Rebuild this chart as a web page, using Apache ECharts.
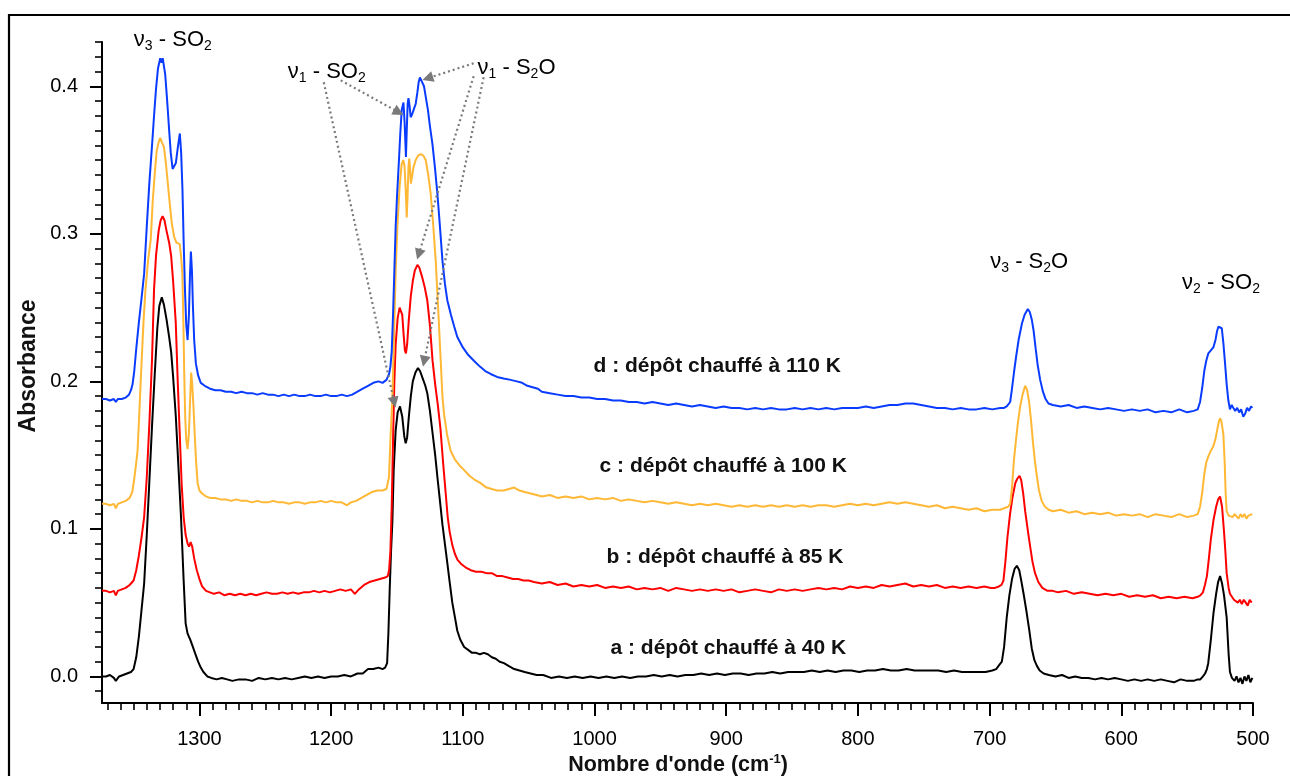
<!DOCTYPE html>
<html><head><meta charset="utf-8">
<script src="https://cdn.jsdelivr.net/npm/echarts@6/dist/echarts.min.js"></script>
<style>html,body{margin:0;padding:0;background:#fff}#c{width:1290px;height:776px}</style>
</head><body><div id="c"></div>
<script>
// ---------- DATA ----------
const xMajorTicks = [500, 600, 700, 800, 900, 1000, 1100, 1200, 1300];
const xMinorTicks = [510,520,530,540,550,560,570,580,590,610,620,630,640,650,660,670,680,690,710,720,730,740,750,760,770,780,790,810,820,830,840,850,860,870,880,890,910,920,930,940,950,960,970,980,990,1010,1020,1030,1040,1050,1060,1070,1080,1090,1110,1120,1130,1140,1150,1160,1170,1180,1190,1210,1220,1230,1240,1250,1260,1270,1280,1290,1310,1320,1330,1340,1350,1360,1370];
const yMajorTicks = [0, 0.1, 0.2, 0.3, 0.4];
const yMinorTicks = [-0.01,0.01,0.02,0.03,0.04,0.05,0.06,0.07,0.08,0.09,0.11,0.12,0.13,0.14,0.15,0.16,0.17,0.18,0.19,0.21,0.22,0.23,0.24,0.25,0.26,0.27,0.28,0.29,0.31,0.32,0.33,0.34,0.35,0.36,0.37,0.38,0.39,0.41,0.42,0.43];

const seriesNames = ['a : dépôt chauffé à 40 K','b : dépôt chauffé à 85 K','c : dépôt chauffé à 100 K','d : dépôt chauffé à 110 K'];

const spectrumA = [
[1374,0.000],[1371,0.000],[1368,0.001],[1365,-0.001],[1363.5,-0.003],[1361,0.000],[1358,0.001],[1355,0.002],[1352,0.003],[1350,0.005],[1348,0.013],[1346,0.027],[1344,0.045],[1342,0.063],[1340,0.096],[1338,0.133],[1336,0.170],[1334,0.204],[1332,0.236],[1330.5,0.251],[1328.6,0.257],[1327,0.252],[1325,0.242],[1323,0.230],[1321.5,0.220],[1320,0.203],[1318,0.177],[1316,0.143],[1314,0.108],[1312,0.065],[1310.5,0.036],[1309,0.029],[1307,0.025],[1305,0.020],[1303,0.015],[1301,0.010],[1299,0.006],[1297,0.003],[1294,0.000],[1291,-0.001],[1287,-0.002],[1283,-0.001],[1279,-0.002],[1275,-0.003],[1270,-0.002],[1265,-0.002],[1260,-0.003],[1255,-0.001],[1250,-0.002],[1245,-0.001],[1240,-0.002],[1235,-0.001],[1230,-0.002],[1225,-0.001],[1220,0.000],[1215,-0.001],[1210,0.000],[1205,-0.001],[1200,0.000],[1195,0.000],[1190,0.001],[1185,0.000],[1180,0.002],[1176,0.002],[1172,0.005],[1168,0.005],[1164,0.006],[1161,0.005],[1159,0.006],
[1157.5,0.009],[1156.5,0.030],[1155.5,0.060],[1154.5,0.085],[1153.5,0.105],[1152.5,0.140],[1151,0.167],[1149.5,0.179],[1147.7,0.183],[1146,0.176],[1144.5,0.163],[1143.4,0.158],[1142.3,0.162],[1141,0.176],[1139.5,0.190],[1138,0.200],[1136,0.206],[1134.1,0.209],[1132.5,0.207],[1130.5,0.202],[1128.5,0.197],[1127,0.192],[1125,0.180],[1123,0.165],[1121,0.150],[1119.3,0.135],[1117.5,0.120],[1115.5,0.103],[1113.5,0.089],[1111.8,0.077],[1110,0.064],[1108,0.050],[1106,0.040],[1104.2,0.031],[1102,0.025],[1099,0.020],[1096,0.018],[1093,0.016],[1090,0.016],[1087,0.015],[1084,0.016],[1081,0.015],[1078,0.013],[1075,0.012],[1072,0.010],[1068.8,0.009],[1065,0.007],[1061,0.005],[1057,0.004],[1053,0.003],[1048.5,0.002],[1044,0.001],
[1039,0.001],[1033,-0.001],[1027,0.000],[1021,-0.001],[1015,0.000],[1009,-0.001],[1003,0.000],[997,-0.001],[991,0.000],[985,-0.001],[979,0.000],[973,-0.001],[967,0.000],[961,0.000],[955,0.001],[949,0.000],[943,0.001],[937,0.000],[931,0.001],[925,0.001],[919,0.002],[913,0.001],[907,0.002],[901,0.001],[895,0.002],[889,0.002],[883,0.001],[877,0.002],[871,0.002],[865,0.003],[859,0.002],[853,0.003],[847,0.003],[841,0.003],[835,0.004],[829,0.003],[823,0.004],[817,0.003],[811,0.004],[805,0.004],[799,0.003],[793,0.004],[787,0.004],[781,0.005],[775,0.004],[769,0.004],[763,0.005],[757,0.004],[751,0.004],[745,0.004],[739,0.004],[733,0.003],[727,0.004],[721,0.003],[715,0.003],[709,0.003],[703,0.003],[698,0.004],
[695,0.005],[692.5,0.008],[690.7,0.010],[689,0.020],[687,0.040],[685,0.055],[683,0.066],[681,0.073],[679.3,0.075],[677.5,0.072],[676,0.065],[674,0.055],[672,0.044],[670,0.032],[668,0.019],[666,0.011],[664,0.007],[662,0.004],[659,0.002],
[655,0.001],[650,0.000],[645,0.001],[640,-0.001],[635,0.000],[630,-0.001],[625,-0.001],[620,-0.002],[615,-0.001],[610,-0.002],[605,-0.001],[600,-0.002],[595,-0.003],[590,-0.002],[585,-0.003],[580,-0.002],[575,-0.003],[570,-0.002],[565,-0.003],[560,-0.004],[555,-0.002],[550,-0.003],[545,-0.003],[542,-0.002],
[540,-0.002],[538,0.000],[536.4,0.002],[535,0.005],[534,0.009],[532,0.025],[530,0.043],[528,0.056],[526.5,0.064],[525,0.068],[523.5,0.063],[522,0.055],[520,0.040],[518.5,0.015],[517.5,0.003],[516,-0.001],[514,-0.003],[512.5,0.000],[511,-0.004],[509.5,-0.001],[508,-0.005],[506.5,0.000],[505,-0.003],[503.5,0.001],[502,-0.004],[500.5,-0.001]
];

const spectrumB = [
[1374,0.058],[1371,0.058],[1368,0.057],[1365,0.058],[1363.5,0.055],[1362,0.058],[1359,0.059],[1356,0.060],[1353,0.062],[1350,0.065],[1348,0.072],[1346,0.082],[1344,0.094],[1342,0.108],[1340,0.135],[1338,0.172],[1336,0.215],[1334.5,0.262],[1333,0.285],[1331,0.302],[1329.5,0.309],[1328,0.312],[1326.5,0.309],[1325,0.302],[1323,0.294],[1321.5,0.285],[1320,0.268],[1318,0.240],[1316.5,0.200],[1315,0.165],[1313.5,0.130],[1312,0.108],[1310.5,0.096],[1309,0.090],[1307.9,0.088],[1306.7,0.091],[1305.5,0.088],[1304,0.080],[1302,0.072],[1300,0.066],[1298,0.061],[1295,0.058],[1292,0.057],[1289,0.056],[1285,0.057],[1281,0.055],[1277,0.056],[1273,0.055],[1269,0.056],[1265,0.055],[1261,0.056],[1257,0.055],[1253,0.056],[1249,0.057],[1245,0.056],[1241,0.056],[1237,0.057],[1233,0.056],[1229,0.057],[1225,0.056],[1221,0.057],[1217,0.057],[1213,0.058],[1209,0.057],[1205,0.058],[1201,0.057],[1197,0.058],[1193,0.059],[1189,0.058],[1185,0.059],[1182,0.056],[1179,0.059],[1175,0.062],[1171,0.064],[1167,0.065],[1163,0.066],[1159,0.067],
[1157,0.068],[1156,0.072],[1155,0.085],[1154,0.115],[1153,0.160],[1152,0.200],[1151,0.225],[1149.5,0.243],[1148,0.250],[1147,0.251],[1146,0.245],[1145,0.232],[1144,0.221],[1143.2,0.219],[1142.3,0.225],[1141,0.242],[1139.5,0.258],[1138,0.268],[1136.5,0.275],[1134.5,0.279],[1133,0.277],[1131,0.271],[1129,0.264],[1127,0.255],[1125,0.238],[1123,0.214],[1121,0.198],[1119,0.184],[1117,0.168],[1115,0.145],[1113,0.124],[1111.5,0.108],[1110,0.098],[1108,0.089],[1106,0.083],[1104,0.079],[1101,0.076],[1098,0.074],[1094,0.072],[1090,0.071],[1086,0.071],[1082,0.070],[1078,0.070],[1074,0.068],[1070,0.068],[1066,0.067],[1062,0.066],[1058,0.066],[1054,0.065],[1050,0.065],
[1046,0.064],[1040,0.063],[1034,0.064],[1028,0.062],[1022,0.063],[1016,0.061],[1010,0.062],[1004,0.061],[998,0.062],[992,0.060],[986,0.061],[980,0.060],[974,0.061],[968,0.059],[962,0.060],[956,0.059],[950,0.060],[944,0.058],[938,0.060],[932,0.059],[926,0.058],[920,0.059],[914,0.058],[908,0.059],[902,0.058],[896,0.059],[890,0.057],[884,0.058],[878,0.059],[872,0.058],[866,0.057],[860,0.059],[854,0.058],[848,0.059],[842,0.058],[836,0.059],[830,0.060],[824,0.059],[818,0.060],[812,0.059],[806,0.061],[800,0.060],[794,0.061],[788,0.060],[782,0.062],[776,0.061],[770,0.062],[764,0.063],[758,0.061],[752,0.062],[746,0.061],[740,0.062],[734,0.060],[728,0.061],[722,0.060],[716,0.061],[710,0.060],[704,0.061],[699,0.060],
[696,0.060],[693,0.061],[691,0.062],[689.5,0.065],[688,0.078],[686.5,0.094],[684.5,0.110],[682.5,0.122],[680.5,0.131],[679,0.134],[677.3,0.136],[676,0.133],[674.5,0.124],[673,0.112],[671,0.099],[669.2,0.088],[667.5,0.078],[665.5,0.070],[663,0.064],[660,0.060],
[656,0.058],[652,0.058],[648,0.057],[642,0.058],[636,0.056],[630,0.057],[624,0.056],[618,0.055],[612,0.056],[606,0.055],[600,0.056],[594,0.054],[588,0.055],[582,0.054],[576,0.055],[570,0.053],[564,0.054],[558,0.053],[552,0.054],[546,0.053],
[542,0.054],[540,0.055],[538,0.057],[536.5,0.062],[535,0.068],[533.5,0.080],[532,0.093],[530,0.106],[528,0.115],[526.5,0.120],[525,0.122],[523.5,0.115],[522,0.098],[521,0.085],[520,0.070],[518.5,0.060],[517.5,0.056],[516,0.054],[514.5,0.052],[513,0.053],[511.5,0.050],[510,0.052],[508.5,0.049],[507,0.052],[505.5,0.050],[504,0.048],[502.5,0.052],[501,0.050]
];

const spectrumC = [
[1374,0.117],[1371,0.117],[1368,0.116],[1365,0.117],[1363.5,0.114],[1362,0.117],[1359,0.118],[1356,0.119],[1353,0.121],[1351,0.125],[1349.5,0.134],[1348,0.145],[1347,0.153],[1346,0.172],[1345,0.192],[1344,0.212],[1342.5,0.240],[1341,0.262],[1339,0.282],[1337,0.296],[1335.5,0.322],[1334,0.340],[1332.5,0.356],[1331,0.362],[1329.8,0.365],[1328.5,0.362],[1327,0.359],[1325.5,0.348],[1324,0.334],[1322.5,0.320],[1321,0.307],[1319.2,0.298],[1317.5,0.294],[1316,0.295],[1315,0.293],[1314,0.285],[1313,0.273],[1312.3,0.245],[1311.6,0.207],[1310.8,0.175],[1310,0.160],[1309,0.154],[1308,0.165],[1307,0.190],[1306.3,0.206],[1305.5,0.198],[1304.5,0.182],[1303.5,0.162],[1302.5,0.145],[1301.4,0.131],[1300,0.126],[1298,0.124],[1295,0.122],[1292,0.121],[1288,0.121],[1284,0.120],[1280,0.120],[1276,0.119],[1272,0.120],[1268,0.119],[1264,0.119],[1260,0.118],[1256,0.119],[1252,0.118],[1248,0.118],[1244,0.119],[1240,0.118],[1236,0.118],[1232,0.117],[1228,0.118],[1224,0.118],[1220,0.117],[1216,0.118],[1212,0.118],[1208,0.119],[1204,0.118],[1200,0.119],[1196,0.118],[1192,0.118],[1188,0.116],[1185,0.118],[1181,0.119],[1177,0.121],[1173,0.123],[1169,0.125],[1165,0.126],[1161,0.126],[1158,0.127],
[1157,0.128],[1156.1,0.135],[1155,0.160],[1153.5,0.189],[1152,0.240],[1151,0.275],[1149.7,0.305],[1148,0.332],[1146.5,0.347],[1145.3,0.350],[1144.3,0.346],[1143.3,0.328],[1142.6,0.311],[1142,0.325],[1141.3,0.345],[1140.7,0.351],[1140,0.343],[1139.5,0.334],[1138.7,0.338],[1137.5,0.345],[1135.8,0.350],[1134,0.353],[1132,0.354],[1130,0.353],[1128.2,0.350],[1126.3,0.340],[1124.4,0.327],[1122.5,0.306],[1120.6,0.282],[1118.5,0.245],[1116.8,0.214],[1115.5,0.190],[1114.3,0.178],[1112,0.164],[1109.3,0.153],[1106,0.147],[1102.5,0.143],[1099.2,0.140],[1095,0.136],[1090.5,0.133],[1086.5,0.131],[1082,0.128],[1078,0.127],[1073.8,0.126],[1069,0.126],[1065,0.127],[1061,0.128],[1057,0.126],[1053,0.125],[1048.5,0.124],
[1044,0.123],[1040,0.122],[1034,0.123],[1028,0.121],[1022,0.122],[1016,0.121],[1010,0.122],[1004,0.120],[998,0.121],[992,0.120],[986,0.121],[980,0.119],[974,0.120],[968,0.119],[962,0.118],[956,0.119],[950,0.118],[944,0.117],[938,0.118],[932,0.117],[926,0.116],[920,0.117],[914,0.116],[908,0.117],[902,0.116],[896,0.115],[890,0.116],[884,0.115],[878,0.116],[872,0.115],[866,0.116],[860,0.115],[854,0.116],[848,0.115],[842,0.116],[836,0.115],[830,0.116],[824,0.116],[818,0.115],[812,0.116],[806,0.117],[800,0.116],[794,0.117],[788,0.116],[782,0.117],[776,0.118],[770,0.117],[764,0.118],[758,0.117],[752,0.116],[746,0.115],[740,0.116],[734,0.114],[728,0.115],[722,0.114],[716,0.113],[710,0.114],[704,0.112],[698,0.113],
[692,0.113],[689,0.114],[686,0.115],[684.4,0.117],[683,0.128],[681.5,0.147],[680,0.160],[678.5,0.172],[676.8,0.183],[675,0.191],[673,0.197],[671.5,0.194],[670,0.186],[668.5,0.173],[667,0.158],[665.5,0.145],[664,0.135],[662.5,0.126],[660.5,0.119],[658,0.115],
[655,0.113],[652,0.112],[646,0.113],[640,0.111],[634,0.112],[628,0.110],[622,0.111],[616,0.110],[610,0.111],[604,0.109],[598,0.110],[592,0.109],[586,0.110],[580,0.108],[574,0.110],[568,0.109],[562,0.108],[556,0.110],[550,0.108],[545,0.109],
[542,0.110],[540.2,0.115],[538.5,0.125],[537,0.137],[535.5,0.145],[534,0.149],[532,0.153],[530.1,0.156],[528.5,0.161],[527,0.168],[525.8,0.173],[525,0.175],[524,0.173],[522.5,0.164],[521.5,0.145],[520.8,0.125],[520,0.112],[518.5,0.109],[517,0.110],[515.5,0.108],[514,0.110],[512.5,0.109],[511,0.107],[509.5,0.110],[508,0.108],[506.5,0.110],[505,0.107],[503.5,0.109],[502,0.108],[500.5,0.110]
];

const spectrumD = [
[1374,0.188],[1371,0.188],[1368,0.187],[1365,0.188],[1363.5,0.186],[1362,0.188],[1359,0.188],[1356,0.189],[1353.5,0.191],[1352,0.194],[1350.8,0.198],[1349.5,0.207],[1348,0.222],[1346,0.240],[1344,0.256],[1342,0.273],[1340,0.305],[1338,0.335],[1336,0.360],[1334.4,0.381],[1333,0.398],[1331.5,0.412],[1329.8,0.419],[1328.8,0.416],[1327.9,0.419],[1327.2,0.418],[1326,0.408],[1325,0.396],[1324.2,0.386],[1323,0.370],[1321.8,0.355],[1320.4,0.344],[1319,0.344],[1317.9,0.348],[1316.5,0.358],[1314.9,0.368],[1313.9,0.355],[1312.9,0.330],[1312,0.295],[1311,0.262],[1310,0.238],[1309,0.228],[1308,0.245],[1307.2,0.272],[1306.5,0.288],[1305.7,0.275],[1305,0.252],[1304,0.228],[1302.7,0.212],[1301,0.204],[1299,0.199],[1296,0.197],[1292,0.195],[1288,0.194],[1284,0.194],[1280,0.193],[1276,0.193],[1272,0.192],[1268,0.193],[1264,0.192],[1260,0.192],[1256,0.191],[1252,0.192],[1248,0.191],[1244,0.191],[1240,0.190],[1236,0.191],[1232,0.190],[1228,0.191],[1224,0.190],[1220,0.190],[1216,0.191],[1212,0.190],[1208,0.190],[1204,0.191],[1200,0.190],[1196,0.190],[1192,0.191],[1188,0.190],[1184,0.191],[1180,0.193],[1176,0.195],[1172,0.197],[1168,0.199],[1164,0.200],[1161,0.199],[1158,0.201],
[1156,0.205],[1155,0.210],[1154,0.220],[1153,0.245],[1152,0.275],[1151,0.305],[1150,0.325],[1148.5,0.350],[1147.5,0.368],[1146.4,0.384],[1145.1,0.389],[1144.2,0.375],[1143.2,0.352],[1142.6,0.370],[1141.9,0.388],[1141.3,0.392],[1140.5,0.387],[1139.6,0.379],[1138.5,0.381],[1137,0.385],[1135.8,0.388],[1134.5,0.396],[1133.5,0.403],[1132.6,0.406],[1131,0.403],[1129.5,0.400],[1128,0.392],[1126.5,0.384],[1125,0.373],[1123.1,0.361],[1121.2,0.345],[1119.3,0.327],[1117.4,0.305],[1115.5,0.282],[1113.6,0.266],[1111.8,0.255],[1109,0.245],[1106.5,0.237],[1104.2,0.230],[1100,0.223],[1096,0.218],[1091.6,0.214],[1087,0.210],[1083,0.207],[1078.9,0.205],[1074,0.203],[1069,0.202],[1063.7,0.201],[1059,0.200],[1055,0.199],[1051,0.197],[1047,0.196],[1043,0.195],
[1040,0.193],[1034,0.192],[1028,0.191],[1022,0.190],[1016,0.190],[1010,0.189],[1004,0.189],[998,0.188],[992,0.188],[986,0.187],[980,0.187],[974,0.186],[968,0.186],[962,0.185],[956,0.186],[950,0.185],[944,0.184],[938,0.185],[932,0.184],[926,0.183],[920,0.184],[914,0.183],[908,0.182],[902,0.183],[896,0.182],[890,0.182],[884,0.181],[878,0.182],[872,0.181],[866,0.182],[860,0.181],[854,0.181],[848,0.182],[842,0.181],[836,0.182],[830,0.181],[824,0.182],[818,0.181],[812,0.182],[806,0.182],[800,0.182],[794,0.183],[788,0.182],[782,0.183],[776,0.184],[770,0.184],[764,0.185],[758,0.185],[752,0.184],[746,0.183],[740,0.182],[734,0.182],[728,0.181],[722,0.182],[716,0.181],[710,0.181],[704,0.182],[698,0.181],
[692,0.182],[689,0.182],[687,0.183],[685.5,0.184],[684.4,0.186],[683,0.195],[681.5,0.206],[680,0.216],[678,0.228],[675.5,0.239],[673.5,0.245],[671,0.249],[669.5,0.247],[668,0.242],[666.7,0.235],[665,0.222],[663.5,0.211],[661.6,0.201],[659.5,0.193],[657.5,0.188],[655.3,0.185],
[652,0.184],[646,0.183],[640,0.184],[634,0.182],[628,0.183],[622,0.182],[616,0.181],[610,0.182],[604,0.181],[598,0.180],[592,0.181],[586,0.180],[580,0.181],[574,0.179],[568,0.180],[562,0.179],[556,0.181],[550,0.179],[545,0.180],
[542,0.181],[540.2,0.186],[538.5,0.196],[537,0.207],[535.5,0.214],[533.9,0.219],[532,0.221],[530.1,0.223],[528.5,0.228],[527.3,0.234],[526.3,0.237],[525,0.236],[523.7,0.236],[522.5,0.226],[521.2,0.212],[520,0.198],[518.7,0.187],[517.5,0.181],[516.2,0.184],[514.9,0.182],[513.5,0.180],[512,0.182],[510.5,0.179],[509,0.181],[507.4,0.176],[506,0.178],[504.5,0.182],[503,0.180],[501.5,0.183],[500.5,0.182]
];

// annotation arrows: [from wn, from A, to wn, to A]
const arrowsSO2 = [[1192.7,0.404,1148.7,0.3824],[1205.6,0.4027,1152.1,0.1858]];
const arrowsS2O = [[1091.8,0.4156,1126.7,0.4054],[1091.8,0.4068,1133.5,0.2861],[1084.2,0.4061,1129.4,0.2136]];

// ---------- CHART ----------
const FONT = '"Liberation Sans", Arial, Helvetica, sans-serif';
const colors = ['#000000', '#FF0000', '#FFB835', '#0A3CFF'];
const chart = echarts.init(document.getElementById('c'), null, {renderer: 'canvas'});

const gridBox = {left: 102, right: 37, top: 42, bottom: 73};
const X_MIN = 500, X_MAX = 1374, Y_MIN = -0.018, Y_MAX = 0.43;

function arrowLines(list) {
  return list.map(a => [{coord: [a[0], a[1]], symbol: 'none'}, {coord: [a[2], a[3]], symbol: 'triangle', symbolSize: 11}]);
}

const spectra = [spectrumA, spectrumB, spectrumC, spectrumD];

const option = {
  animation: false,
  backgroundColor: '#ffffff',
  grid: [
    Object.assign({containLabel: false}, gridBox),
    Object.assign({containLabel: false}, gridBox)
  ],
  xAxis: [
    {type: 'value', gridIndex: 0, min: X_MIN, max: X_MAX, inverse: true, position: 'bottom',
     axisLine: {show: true, onZero: false, lineStyle: {color: '#000', width: 2}},
     axisTick: {show: true, inside: false, length: 13, customValues: xMajorTicks, lineStyle: {color: '#000', width: 2}},
     axisLabel: {show: true, customValues: xMajorTicks, fontSize: 20, color: '#000', fontFamily: FONT, margin: 26,
                 formatter: v => String(v)},
     splitLine: {show: false}},
    {type: 'value', gridIndex: 1, min: X_MIN, max: X_MAX, inverse: true, position: 'bottom',
     axisLine: {show: false, onZero: false},
     axisTick: {show: true, inside: false, length: 7, customValues: xMinorTicks, lineStyle: {color: '#000', width: 1.6}},
     axisLabel: {show: false}, splitLine: {show: false}}
  ],
  yAxis: [
    {type: 'value', gridIndex: 0, min: Y_MIN, max: Y_MAX, position: 'left',
     axisLine: {show: true, onZero: false, lineStyle: {color: '#000', width: 2}},
     axisTick: {show: true, inside: false, length: 12, customValues: yMajorTicks, lineStyle: {color: '#000', width: 2}},
     axisLabel: {show: true, customValues: yMajorTicks, fontSize: 20, color: '#000', fontFamily: FONT, margin: 24,
                 formatter: v => v.toFixed(1)},
     splitLine: {show: false}},
    {type: 'value', gridIndex: 1, min: Y_MIN, max: Y_MAX, position: 'left',
     axisLine: {show: false, onZero: false},
     axisTick: {show: true, inside: false, length: 7, customValues: yMinorTicks, lineStyle: {color: '#000', width: 1.6}},
     axisLabel: {show: false}, splitLine: {show: false}}
  ],
  series: spectra.map((d, i) => {
    const s = {
      name: seriesNames[i], type: 'line', xAxisIndex: 0, yAxisIndex: 0,
      data: d, showSymbol: false, symbol: 'none', smooth: false, silent: true, z: 2 + i,
      lineStyle: {color: colors[i], width: 2}, emphasis: {disabled: true}
    };
    if (i === 3) {
      s.markLine = {
        silent: true, symbol: ['none', 'triangle'], symbolSize: 11, animation: false, z: 10,
        label: {show: false}, emphasis: {disabled: true},
        lineStyle: {color: '#7a7a7a', width: 2.2, type: [2, 3], opacity: 1},
        itemStyle: {color: '#7a7a7a', opacity: 1},
        data: arrowLines(arrowsSO2).concat(arrowLines(arrowsS2O))
      };
    }
    return s;
  })
};
chart.setOption(option);

// ---------- TEXT ANNOTATIONS (anchored in data space) ----------
const richBase = {
  m: {fontSize: 22, fontFamily: FONT, color: '#1a1a1a', lineHeight: 26, verticalAlign: 'middle'},
  s: {fontSize: 14, fontFamily: FONT, color: '#1a1a1a', lineHeight: 14, verticalAlign: 'bottom'}
};
const peakLabels = [
  {t: '{m|ν}{s|3}{m| - SO}{s|2}', at: [1349.8, 0.4312]},
  {t: '{m|ν}{s|1}{m| - SO}{s|2}', at: [1232.9, 0.4095]},
  {t: '{m|ν}{s|1}{m| - S}{s|2}{m|O}', at: [1088.8, 0.4122]},
  {t: '{m|ν}{s|3}{m| - S}{s|2}{m|O}', at: [699.5, 0.2807]},
  {t: '{m|ν}{s|2}{m| - SO}{s|2}', at: [553.9, 0.2664]}
];
const seriesLabelAt = [[987.9, 0.019], [990.9, 0.0807], [996.2, 0.1424], [1000.8, 0.2102]];

const graphics = [];
peakLabels.forEach(p => {
  const px = chart.convertToPixel({xAxisIndex: 0, yAxisIndex: 0}, p.at);
  graphics.push({type: 'text', x: px[0], y: px[1], silent: true,
    style: {text: p.t, rich: richBase, align: 'left', verticalAlign: 'middle'}});
});
seriesLabelAt.forEach((at, i) => {
  const px = chart.convertToPixel({xAxisIndex: 0, yAxisIndex: 0}, at);
  graphics.push({type: 'text', x: px[0], y: px[1], silent: true,
    style: {text: seriesNames[i], fontSize: 21, fontWeight: 'bold', fontFamily: FONT, fill: '#111',
            align: 'left', verticalAlign: 'middle'}});
});
// axis titles
graphics.push({type: 'text', x: 29, y: 366, rotation: Math.PI / 2, silent: true,
  style: {text: 'Absorbance', fontSize: 23, fontWeight: 'bold', fontFamily: FONT, fill: '#111', align: 'center', verticalAlign: 'middle'}});
graphics.push({type: 'text', x: 678, y: 765, silent: true,
  style: {text: '{a|Nombre d\'onde (cm}{u|-1}{a|)}', align: 'center', verticalAlign: 'middle',
    rich: {a: {fontSize: 21.5, fontWeight: 'bold', fontFamily: FONT, fill: '#111', lineHeight: 24, verticalAlign: 'middle'},
           u: {fontSize: 13, fontWeight: 'bold', fontFamily: FONT, fill: '#111', lineHeight: 13, verticalAlign: 'top'}}}});
// outer frame (top & left edges)
graphics.push({type: 'line', silent: true, shape: {x1: 8, y1: 15, x2: 1290, y2: 15}, style: {stroke: '#000', lineWidth: 2.2}});
graphics.push({type: 'line', silent: true, shape: {x1: 9, y1: 14, x2: 9, y2: 776}, style: {stroke: '#000', lineWidth: 2.2}});

chart.setOption({graphic: graphics});
</script>
</body></html>
